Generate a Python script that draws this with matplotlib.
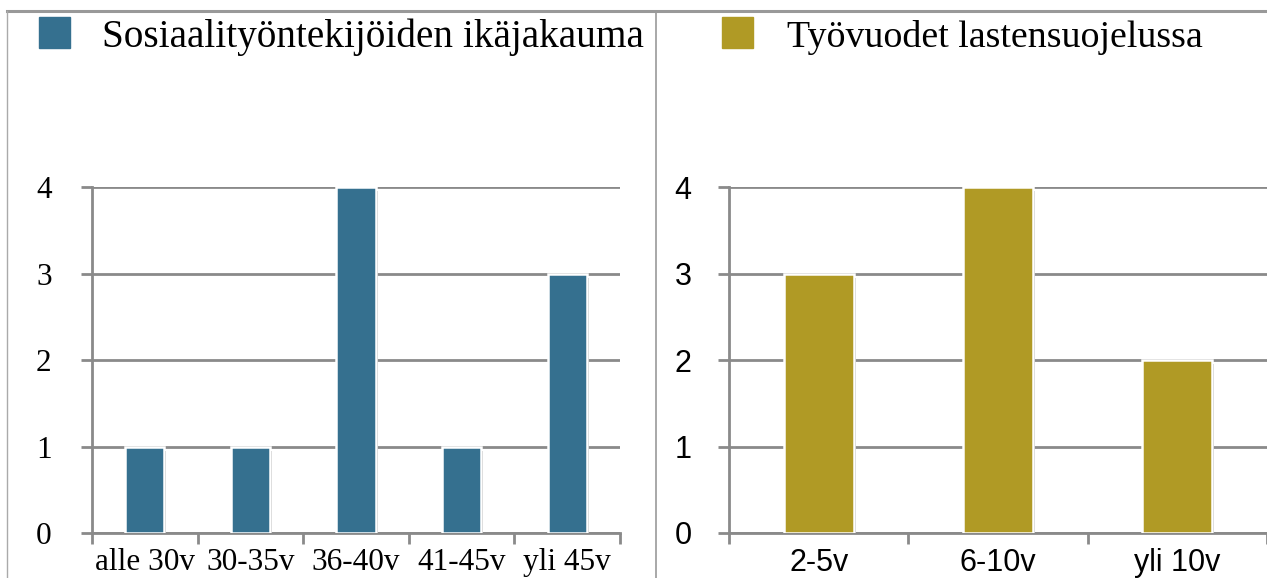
import matplotlib
matplotlib.use('Agg')
import matplotlib.pyplot as plt
import matplotlib.patheffects as pe
from matplotlib.patches import Rectangle
from matplotlib.lines import Line2D
import numpy as np

# data
age_labels = ['alle 30v', '30-35v', '36-40v', '41-45v', 'yli 45v']
age_counts = [1, 1, 4, 1, 3]
years_labels = ['2-5v', '6-10v', 'yli 10v']
years_counts = [3, 4, 2]

title_left = 'Sosiaalityöntekijöiden ikäjakauma'
title_right = 'Työvuodet lastensuojelussa'

blue = '#35708F'
gold = '#B09A25'
grid_gray = '#8A8A8A'

W, H = 1267, 578
fig = plt.figure(figsize=(W / 100, H / 100), dpi=100)


def px_axes(x0, x1, y_top, y_bot):
    return fig.add_axes([x0 / W, (H - y_bot) / H, (x1 - x0) / W, (y_bot - y_top) / H])


def setup(ax, labels, values, color, width, font, fsize, ypad):
    n = len(labels)
    x = np.arange(n)
    shadow = [pe.SimplePatchShadow(offset=(1.5, -3), shadow_rgbFace='#444444', alpha=0.7),
              pe.Normal()]
    ax.bar(x, values, width=width, color=color, edgecolor='white', linewidth=1.8,
           zorder=3, path_effects=shadow)
    ax.set_xlim(-0.5, n - 0.5)
    ax.set_ylim(0, 4)
    ax.set_yticks([0, 1, 2, 3, 4])
    ax.set_yticklabels(['0', '1', '2', '3', '4'], fontfamily=font, fontsize=fsize)
    ax.set_xticks(np.arange(n + 1) - 0.5)
    ax.set_xticklabels([])
    ax.set_xticks(x, minor=True)
    ax.set_xticklabels(labels, minor=True, fontfamily=font, fontsize=fsize)
    ax.tick_params(axis='x', which='major', length=8, width=2, color=grid_gray, direction='out')
    ax.tick_params(axis='x', which='minor', length=0, pad=11)
    ax.tick_params(axis='y', length=8, width=2, color=grid_gray, pad=ypad)
    ax.yaxis.grid(True, color=grid_gray, linewidth=2, zorder=0)
    ax.set_axisbelow(True)
    for s in ['top', 'right']:
        ax.spines[s].set_visible(False)
    for s in ['left', 'bottom']:
        ax.spines[s].set_color(grid_gray)
        ax.spines[s].set_linewidth(2)
    ax.patch.set_alpha(0)


ax1 = px_axes(92, 620, 187, 533)
setup(ax1, age_labels, age_counts, blue, 0.37, 'Liberation Serif', 22.5, 21)

ax2 = px_axes(729, 1267, 187, 533)
setup(ax2, years_labels, years_counts, gold, 0.39, 'Liberation Sans', 22, 19)

# frame lines
fig.add_artist(Line2D([7 / W, 1], [1 - 11 / H, 1 - 11 / H], color='#999999', lw=2.2))
fig.add_artist(Line2D([7 / W, 7 / W], [0, 1 - 11 / H], color='#aaaaaa', lw=1))
fig.add_artist(Line2D([656 / W, 656 / W], [0, 1 - 11 / H], color='#999999', lw=1.2))

# legends
fig.add_artist(Rectangle((39 / W, 1 - 48 / H), 31 / W, 31 / H, color=blue))
fig.text(102 / W, 1 - 47 / H, title_left, fontfamily='Liberation Serif', fontsize=28.3,
         va='baseline', ha='left')
fig.add_artist(Rectangle((722 / W, 1 - 48 / H), 31 / W, 31 / H, color=gold))
fig.text(787 / W, 1 - 47 / H, title_right, fontfamily='Liberation Serif', fontsize=27.3,
         va='baseline', ha='left')

fig.savefig('out.png', dpi=100)
